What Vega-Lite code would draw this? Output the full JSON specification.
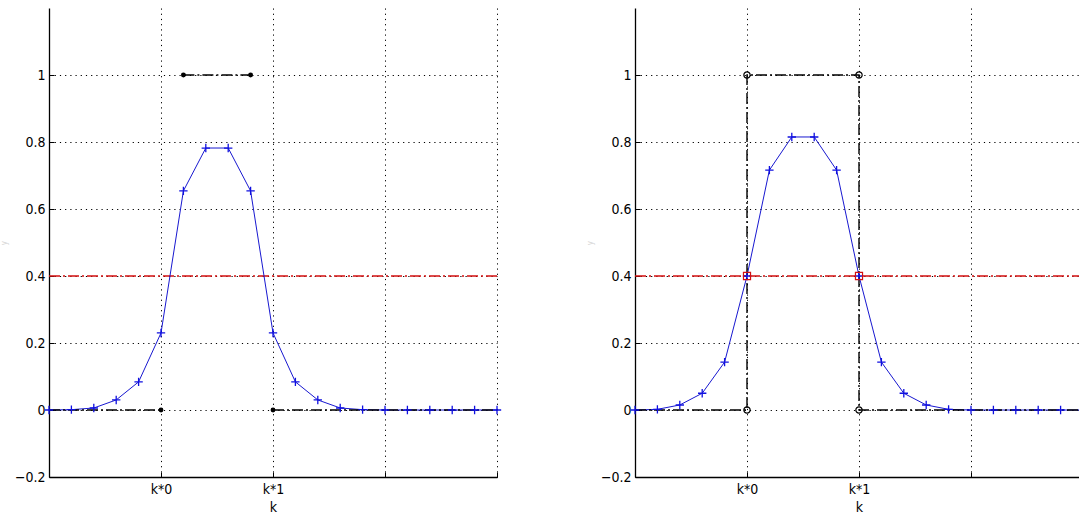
{
  "$schema": "https://vega.github.io/schema/vega-lite/v6.json",
  "background": "white",
  "padding": {"left": 0, "top": 8, "right": 0, "bottom": 0},
  "bounds": "flush",
  "spacing": 138,
  "config": {
    "view": {"stroke": null},
    "font": "Liberation Sans Narrow, DejaVu Sans Condensed, sans-serif",
    "axis": {
      "labelFont": "Liberation Sans Narrow, DejaVu Sans Condensed, sans-serif",
      "labelFontSize": 14,
      "labelColor": "#000000",
      "domainColor": "#000000",
      "domainWidth": 1.3,
      "ticks": true,
      "tickSize": -5,
      "tickColor": "#000000",
      "tickWidth": 1,
      "grid": true,
      "gridColor": "#000000",
      "gridOpacity": 1,
      "gridWidth": 1,
      "gridDash": [1.2, 4],
      "titleFont": "Liberation Sans Narrow, DejaVu Sans Condensed, sans-serif",
      "titleFontWeight": "normal",
      "titleColor": "#000000"
    }
  },
  "datasets": {
    "curveA": [
      {"k": 0.0, "v": 0.0}, {"k": 0.2, "v": 0.001}, {"k": 0.4, "v": 0.006},
      {"k": 0.6, "v": 0.03}, {"k": 0.8, "v": 0.084}, {"k": 1.0, "v": 0.23},
      {"k": 1.2, "v": 0.654}, {"k": 1.4, "v": 0.782}, {"k": 1.6, "v": 0.782},
      {"k": 1.8, "v": 0.654}, {"k": 2.0, "v": 0.23}, {"k": 2.2, "v": 0.084},
      {"k": 2.4, "v": 0.03}, {"k": 2.6, "v": 0.006}, {"k": 2.8, "v": 0.001},
      {"k": 3.0, "v": 0.0}, {"k": 3.2, "v": 0.0}, {"k": 3.4, "v": 0.0},
      {"k": 3.6, "v": 0.0}, {"k": 3.8, "v": 0.0}, {"k": 4.0, "v": 0.0}
    ],
    "curveB": [
      {"k": 0.0, "v": 0.0}, {"k": 0.2, "v": 0.002}, {"k": 0.4, "v": 0.015},
      {"k": 0.6, "v": 0.05}, {"k": 0.8, "v": 0.143}, {"k": 1.0, "v": 0.4},
      {"k": 1.2, "v": 0.716}, {"k": 1.4, "v": 0.815}, {"k": 1.6, "v": 0.815},
      {"k": 1.8, "v": 0.716}, {"k": 2.0, "v": 0.4}, {"k": 2.2, "v": 0.143},
      {"k": 2.4, "v": 0.05}, {"k": 2.6, "v": 0.015}, {"k": 2.8, "v": 0.002},
      {"k": 3.0, "v": 0.0}, {"k": 3.2, "v": 0.0}, {"k": 3.4, "v": 0.0},
      {"k": 3.6, "v": 0.0}, {"k": 3.8, "v": 0.0}, {"k": 4.0, "v": 0.0}
    ],
    "stepA": [
      {"seg": "a", "k": 0.0, "v": 0}, {"seg": "a", "k": 1.0, "v": 0},
      {"seg": "b", "k": 1.2, "v": 1}, {"seg": "b", "k": 1.8, "v": 1},
      {"seg": "c", "k": 2.0, "v": 0}, {"seg": "c", "k": 4.0, "v": 0}
    ],
    "stepAMarks": [
      {"k": 1.0, "v": 0}, {"k": 1.2, "v": 1}, {"k": 1.8, "v": 1}, {"k": 2.0, "v": 0}
    ],
    "stepB": [
      {"i": 0, "k": 0.0, "v": 0}, {"i": 1, "k": 1.0, "v": 0},
      {"i": 2, "k": 1.0, "v": 1}, {"i": 3, "k": 2.0, "v": 1},
      {"i": 4, "k": 2.0, "v": 0}, {"i": 5, "k": 4.0, "v": 0}
    ],
    "stepBMarks": [
      {"k": 1.0, "v": 0}, {"k": 1.0, "v": 1}, {"k": 2.0, "v": 1}, {"k": 2.0, "v": 0}
    ],
    "crossings": [
      {"k": 1.0, "v": 0.4}, {"k": 2.0, "v": 0.4}
    ],
    "threshold": [{"v": 0.4}]
  },
  "hconcat": [
    {
      "width": 448,
      "height": 469,
      "encoding": {
        "x": {
          "field": "k", "type": "quantitative",
          "scale": {"domain": [0, 4], "nice": false, "zero": false},
          "axis": {
            "values": [1, 2, 3, 4],
            "labelExpr": "datum.value == 1 ? 'k*0' : datum.value == 2 ? 'k*1' : ''",
            "labelPadding": 10,
            "title": "k", "titleFontSize": 14, "titlePadding": 4
          }
        },
        "y": {
          "field": "v", "type": "quantitative",
          "scale": {"domain": [-0.2, 1.2], "nice": false, "zero": false},
          "axis": {
            "values": [-0.2, 0, 0.2, 0.4, 0.6, 0.8, 1],
            "format": ".1~f",
            "labelPadding": 9,
            "title": "y", "titleFontSize": 8, "titleColor": "#d4d4d4", "titlePadding": 6
          }
        }
      },
      "layer": [
        {
          "data": {"name": "threshold"},
          "mark": {"type": "rule", "color": "#d41010", "strokeWidth": 1.4, "strokeDash": [11, 3, 2, 3]},
          "encoding": {"x": null, "y": {"field": "v", "type": "quantitative"}}
        },
        {
          "data": {"name": "curveA"},
          "mark": {"type": "line", "color": "#1818d0", "strokeWidth": 1},
          "encoding": {}
        },
        {
          "data": {"name": "stepA"},
          "mark": {"type": "line", "color": "#000000", "strokeWidth": 1.4, "strokeDash": [11, 3, 2, 3]},
          "encoding": {"detail": {"field": "seg"}}
        },
        {
          "data": {"name": "curveA"},
          "mark": {"type": "point", "shape": "M-1,0H1M0,-1V1", "size": 70, "filled": false, "stroke": "#1010e0", "strokeWidth": 1.3, "opacity": 1},
          "encoding": {}
        },
        {
          "data": {"name": "stepAMarks"},
          "mark": {"type": "point", "shape": "circle", "size": 24, "filled": true, "color": "#000000", "opacity": 1},
          "encoding": {}
        }
      ]
    },
    {
      "width": 448,
      "height": 469,
      "encoding": {
        "x": {
          "field": "k", "type": "quantitative",
          "scale": {"domain": [0, 4], "nice": false, "zero": false},
          "axis": {
            "values": [1, 2, 3, 4],
            "labelExpr": "datum.value == 1 ? 'k*0' : datum.value == 2 ? 'k*1' : ''",
            "labelPadding": 10,
            "title": "k", "titleFontSize": 14, "titlePadding": 4
          }
        },
        "y": {
          "field": "v", "type": "quantitative",
          "scale": {"domain": [-0.2, 1.2], "nice": false, "zero": false},
          "axis": {
            "values": [-0.2, 0, 0.2, 0.4, 0.6, 0.8, 1],
            "format": ".1~f",
            "labelPadding": 9,
            "title": "y", "titleFontSize": 8, "titleColor": "#d4d4d4", "titlePadding": 6
          }
        }
      },
      "layer": [
        {
          "data": {"name": "threshold"},
          "mark": {"type": "rule", "color": "#d41010", "strokeWidth": 1.4, "strokeDash": [11, 3, 2, 3]},
          "encoding": {"x": null, "y": {"field": "v", "type": "quantitative"}}
        },
        {
          "data": {"name": "curveB"},
          "mark": {"type": "line", "color": "#1818d0", "strokeWidth": 1},
          "encoding": {}
        },
        {
          "data": {"name": "stepB"},
          "mark": {"type": "line", "color": "#000000", "strokeWidth": 1.4, "strokeDash": [11, 3, 2, 3]},
          "encoding": {"order": {"field": "i"}}
        },
        {
          "data": {"name": "curveB"},
          "mark": {"type": "point", "shape": "M-1,0H1M0,-1V1", "size": 70, "filled": false, "stroke": "#1010e0", "strokeWidth": 1.3, "opacity": 1},
          "encoding": {}
        },
        {
          "data": {"name": "stepBMarks"},
          "mark": {"type": "point", "shape": "circle", "size": 40, "filled": false, "stroke": "#000000", "strokeWidth": 1.2, "opacity": 1},
          "encoding": {}
        },
        {
          "data": {"name": "crossings"},
          "mark": {"type": "point", "shape": "square", "size": 50, "filled": false, "stroke": "#d41010", "strokeWidth": 1.2, "opacity": 1},
          "encoding": {}
        }
      ]
    }
  ]
}
